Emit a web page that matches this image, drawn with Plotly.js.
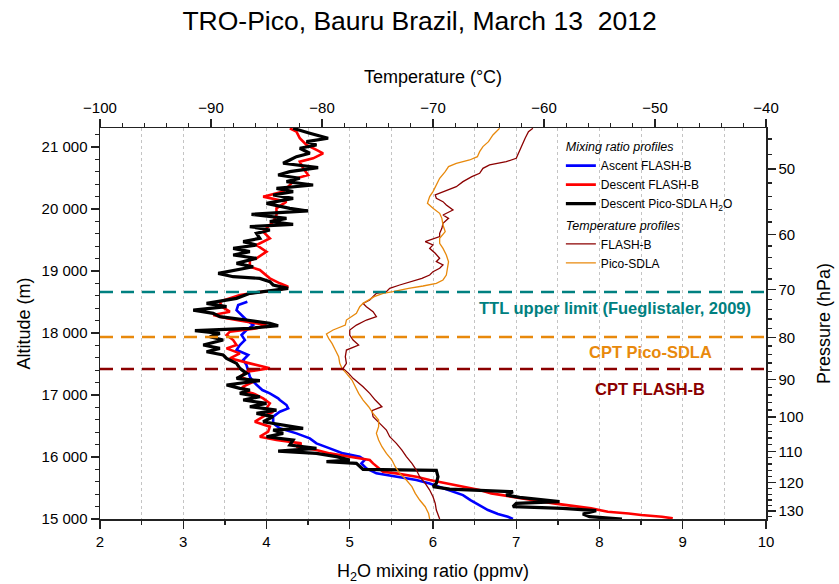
<!DOCTYPE html>
<html><head><meta charset="utf-8">
<script src="https://cdn.plot.ly/plotly-3.0.1.min.js"></script>
<style>html,body{margin:0;padding:0;background:#fff}#chart{width:839px;height:584px}</style>
</head><body><div id="chart"></div>
<script>
const FONT = '"Liberation Sans", Arial, sans-serif';

// ---- Descent Pico-SDLA H2O (ppmv) ----
const picoH2OAlt = [21301,21274,21221,21140,21086,21032,20979,20898,20844,20790,20737,20667,20602,20548,20495,20441,20387,20333,20280,20226,20172,20091,20011,19968,19914,19849,19796,19753,19715,19661,19607,19527,19473,19419,19365,19312,19258,19204,19150,19123,19069,18962,18908,18881,18828,18774,18720,18666,18639,18559,18478,18424,18370,18317,18263,18209,18155,18118,18075,18037,17994,17940,17886,17806,17752,17698,17645,17591,17510,17430,17349,17268,17231,17161,17107,17080,17026,16972,16919,16865,16811,16757,16704,16650,16569,16462,16435,16381,16327,16273,16193,16139,16096,16058,16005,15951,15924,15897,15843,15800,15784,15682,15574,15521,15483,15440,15386,15349,15279,15252,15198,15171,15134,15080,15037,15000];
const picoH2O    = [4.32,4.40,4.52,4.74,4.48,4.60,4.40,4.52,4.36,4.28,4.20,4.62,4.28,4.14,4.40,4.24,4.56,4.12,4.32,4.08,4.32,4.00,4.28,4.50,3.82,4.24,4.04,4.32,3.80,4.04,3.88,3.92,3.72,3.88,3.60,3.80,3.60,3.88,3.72,3.64,3.84,3.42,3.60,3.92,4.04,4.08,4.26,3.92,3.80,3.64,3.28,3.52,3.12,3.36,3.44,3.76,4.04,4.14,3.80,3.14,3.44,3.32,3.48,3.24,3.44,3.28,3.48,3.52,3.64,3.68,3.76,3.64,3.92,3.52,3.68,3.80,3.68,3.92,3.72,4.00,3.80,4.12,3.88,4.08,3.96,4.44,4.08,4.20,4.00,4.32,4.28,4.60,4.14,4.60,4.84,5.00,4.72,5.08,5.12,5.16,6.04,6.06,6.04,6.00,6.20,6.96,6.88,7.04,7.52,7.00,6.96,7.56,7.96,7.80,7.88,8.27];

// ---- Descent FLASH-B H2O (ppmv) ----
const flashDescAlt = [21301,21247,21140,21032,20952,20898,20817,20763,20656,20548,20495,20387,20280,20199,20118,20011,19903,19796,19634,19527,19419,19312,19204,19177,19069,19016,18935,18881,18801,18747,18693,18655,18612,18559,18505,18424,18344,18290,18236,18182,18128,18075,18021,17967,17886,17806,17752,17671,17591,17510,17430,17376,17295,17214,17134,17053,17026,16946,16865,16784,16730,16650,16569,16489,16408,16327,16273,16220,16166,16112,16058,16005,15951,15897,15816,15763,15736,15682,15628,15574,15521,15467,15413,15359,15306,15252,15171,15117,15090,15064,15037,15010];
const flashDesc    = [4.28,4.36,4.40,4.48,4.60,4.68,4.56,4.40,4.44,4.50,4.36,4.28,4.20,3.96,4.24,4.12,4.12,4.08,3.96,4.04,3.88,4.00,3.88,3.80,3.80,3.92,4.00,4.04,4.16,4.26,4.16,3.88,3.68,3.56,3.44,3.46,3.56,3.36,3.52,3.76,4.00,3.88,3.56,3.52,3.60,3.64,3.52,3.68,3.56,3.80,4.04,3.76,3.68,3.84,3.72,3.76,3.84,3.96,4.04,4.00,4.08,3.96,3.86,4.04,4.02,3.92,4.12,4.42,4.36,4.60,4.76,5.00,5.24,5.28,5.36,5.40,5.56,5.80,5.96,6.16,6.36,6.56,6.70,6.95,7.22,7.45,7.90,8.10,8.35,8.50,8.75,8.88];

// ---- Ascent FLASH-B H2O (ppmv) ----
const flashAscAlt = [18505,18451,18370,18290,18209,18128,18048,17967,17886,17806,17725,17645,17564,17483,17403,17295,17214,17134,17080,17026,16999,16946,16919,16838,16784,16730,16650,16542,16462,16381,16300,16220,16139,16058,16005,15951,15897,15816,15736,15682,15628,15574,15521,15467,15386,15306,15225,15144,15080,15037,15000];
const flashAsc    = [3.77,3.66,3.64,3.70,3.76,3.84,3.76,3.70,3.74,3.68,3.64,3.78,3.72,3.76,3.78,3.80,3.84,3.90,3.95,4.04,4.08,4.14,4.16,4.24,4.26,4.16,4.08,4.08,4.16,4.36,4.52,4.60,4.76,4.92,5.12,5.18,5.14,5.20,5.32,5.56,5.80,5.96,6.08,6.20,6.36,6.45,6.55,6.66,6.78,6.90,6.96];

// ---- Temperature FLASH-B (°C) ----
const flashTAlt = [21301,21247,21140,21059,20979,20898,20817,20763,20710,20656,20575,20522,20441,20360,20280,20226,20172,20118,20064,19984,19903,19849,19769,19688,19607,19554,19473,19419,19365,19285,19204,19150,19097,19043,18989,18935,18882,18828,18774,18720,18666,18639,18531,18478,18424,18343,18263,18209,18128,18048,17967,17886,17806,17725,17618,17510,17429,17349,17268,17134,17026,16918,16811,16746,16650,16542,16435,16327,16220,16112,16005,15897,15790,15682,15574,15467,15359,15252,15144,15000];
const flashT    = [-61.0,-61.4,-61.7,-61.9,-62.1,-62.3,-62.5,-63.4,-64.9,-65.5,-65.8,-66.5,-67.3,-67.9,-69.1,-69.8,-69.7,-69.1,-68.8,-68.2,-69.1,-68.6,-69.1,-69.2,-69.4,-69.4,-70.7,-70.0,-70.3,-69.8,-69.4,-69.7,-69.1,-69.4,-70.0,-70.3,-71.0,-72.1,-73.0,-73.9,-74.2,-75.1,-75.7,-76.3,-76.0,-75.4,-75.1,-76.0,-76.9,-77.5,-77.5,-77.2,-76.7,-77.8,-77.9,-77.8,-78.1,-77.6,-77.2,-76.3,-75.7,-75.2,-74.6,-75.5,-75.4,-74.8,-74.2,-73.9,-73.3,-72.8,-72.4,-71.9,-71.5,-71.2,-70.7,-70.3,-70.0,-69.8,-69.7,-69.4];

// ---- Temperature Pico-SDLA (°C) ----
const picoTAlt = [21301,21194,21086,21006,20925,20844,20790,20737,20683,20602,20495,20387,20280,20199,20091,20011,19930,19849,19742,19634,19527,19446,19365,19258,19150,19043,18935,18855,18801,18758,18720,18666,18639,18585,18531,18478,18424,18316,18209,18128,18048,17983,17913,17833,17725,17618,17510,17429,17349,17241,17134,17026,16918,16811,16703,16596,16488,16381,16273,16166,16058,15951,15843,15736,15628,15521,15413,15306,15198,15090,15000];
const picoT    = [-64.0,-64.6,-65.0,-65.5,-65.8,-66.0,-66.7,-67.9,-68.6,-68.9,-69.4,-69.7,-70.0,-70.3,-70.5,-70.0,-69.4,-69.2,-69.1,-68.9,-69.4,-69.4,-69.1,-68.8,-68.6,-68.7,-68.8,-69.1,-69.7,-70.9,-72.2,-73.6,-74.5,-75.3,-75.8,-76.3,-76.6,-76.9,-77.8,-77.9,-79.0,-79.6,-79.4,-79.1,-78.8,-78.5,-78.4,-78.2,-77.8,-77.3,-77.0,-76.7,-76.3,-75.8,-75.4,-74.9,-74.9,-75.1,-74.9,-74.6,-74.2,-73.7,-73.4,-73.0,-72.4,-71.9,-71.6,-71.2,-70.7,-70.4,-70.3];

// ---- Reference levels (altitude, m) ----
const refNames  = ['TTL upper limit (Fueglistaler, 2009)', 'CPT Pico-SDLA', 'CPT FLASH-B'];
const refAlt    = [18661, 17935, 17419];
const refColors = ['#008080', '#E8890C', '#8B0000'];

// ---- Pressure axis (hPa) ----
const pressureTicks = [50,60,70,80,90,100,110,120,130];
const P_REF = 50, Z_REF = 20645, H_SCALE = 5774; // 50 hPa level and scale height
function altOfP(p){ return Z_REF - H_SCALE*Math.log(p/P_REF); }
const pressureMinor = [];
for (let p = 46; p <= 132; p += 2) if (pressureTicks.indexOf(p) < 0) pressureMinor.push(p);

const ALT_RANGE = [15000, 21306];

const traces = [
  {x: flashAsc, y: flashAscAlt, name: 'Ascent FLASH-B', type:'scatter', mode:'lines',
   line:{color:'#0000FF', width:2.6}, legendgroup:'mix', legendgrouptitle:{text:'Mixing ratio profiles', font:{style:'italic', size:12.5, family:FONT}}, xaxis:'x', yaxis:'y'},
  {x: flashDesc, y: flashDescAlt, name: 'Descent FLASH-B', type:'scatter', mode:'lines',
   line:{color:'#FF0000', width:2.6}, legendgroup:'mix', xaxis:'x', yaxis:'y'},
  {x: picoH2O, y: picoH2OAlt, name: 'Descent Pico-SDLA H<sub>2</sub>O', type:'scatter', mode:'lines',
   line:{color:'#000000', width:3.2}, legendgroup:'mix', xaxis:'x', yaxis:'y'},
  {x: flashT, y: flashTAlt, name: 'FLASH-B', type:'scatter', mode:'lines',
   line:{color:'#8B0000', width:1.3}, legendgroup:'temp', legendgrouptitle:{text:'Temperature profiles', font:{style:'italic', size:12.5, family:FONT}}, xaxis:'x2', yaxis:'y'},
  {x: picoT, y: picoTAlt, name: 'Pico-SDLA', type:'scatter', mode:'lines',
   line:{color:'#E8890C', width:1.3}, legendgroup:'temp', xaxis:'x2', yaxis:'y'},
  {x: [2], y: [15000], type:'scatter', mode:'lines', showlegend:false, hoverinfo:'skip', line:{width:0}, xaxis:'x', yaxis:'y2'}
];

const axLine = {showline:true, linecolor:'#222', linewidth:1.5, ticks:'outside', ticklen:8, tickwidth:1.3, tickcolor:'#222', zeroline:false, showgrid:false, tickfont:{size:15}};

const shapes = refAlt.map((a,i)=>({type:'line', xref:'paper', x0:0, x1:1, yref:'y', y0:a, y1:a,
  line:{color:refColors[i], width:2.5, dash:'13px,8px'}}));

const annPos = [[0.773,0.540],[0.827,0.427],[0.826,0.3325]];
const annotations = refNames.map((t,i)=>({text:'<b>'+t+'</b>', xref:'paper', yref:'paper', x:annPos[i][0], y:annPos[i][1],
  xanchor:'center', yanchor:'middle', showarrow:false, font:{family:FONT, size:16.5, color:refColors[i]}}));

const layout = {
  width:839, height:584,
  margin:{l:100, r:73, t:128, b:65, pad:0},
  paper_bgcolor:'#ffffff', plot_bgcolor:'#ffffff',
  font:{family:FONT, size:15, color:'#000'},
  separators:'. ',
  showlegend:true,
  title:{text:'TRO-Pico, Bauru Brazil, March 13  2012', font:{family:FONT, size:26.5, color:'#000'}, x:0.5, xanchor:'center', y:0.965, yanchor:'middle'},
  xaxis:Object.assign({}, axLine, {range:[2,10], tick0:2, dtick:1, showgrid:true, gridcolor:'#c4c4c4', griddash:'3px,3px', gridwidth:1,
    minor:{dtick:0.5, ticks:'outside', ticklen:4, tickcolor:'#222', showgrid:true, gridcolor:'#c4c4c4', griddash:'3px,3px', gridwidth:1},
    title:{text:'H<sub>2</sub>O mixing ratio (ppmv)', font:{size:18}, standoff:17}}),
  xaxis2:Object.assign({}, axLine, {range:[-100,-40], tick0:-100, dtick:10, overlaying:'x', side:'top', anchor:'y',
    minor:{dtick:2, ticks:'outside', ticklen:4, tickcolor:'#222'},
    title:{text:'Temperature (°C)', font:{size:18}, standoff:10}}),
  yaxis:Object.assign({}, axLine, {range:ALT_RANGE, tick0:15000, dtick:1000, tickformat:',d',
    minor:{dtick:200, ticks:'outside', ticklen:4, tickcolor:'#222'},
    title:{text:'Altitude (m)', font:{size:18}, standoff:6}}),
  yaxis2:Object.assign({}, axLine, {range:ALT_RANGE, overlaying:'y', side:'right', anchor:'x',
    tickmode:'array', tickvals:pressureTicks.map(altOfP), ticktext:pressureTicks.map(String),
    minor:{tickmode:'array', tickvals:pressureMinor.map(altOfP), ticks:'outside', ticklen:4, tickcolor:'#222'},
    title:{text:'Pressure (hPa)', font:{size:18}, standoff:15}}),
  legend:{x:0.692, y:0.99, xanchor:'left', yanchor:'top', bgcolor:'rgba(0,0,0,0)', borderwidth:0,
    font:{family:FONT, size:12}, tracegroupgap:2, itemwidth:30, traceorder:'grouped'},
  shapes:shapes,
  annotations:annotations
};

Plotly.newPlot('chart', traces, layout, {displayModeBar:false, staticPlot:true});
</script>
</body></html>
